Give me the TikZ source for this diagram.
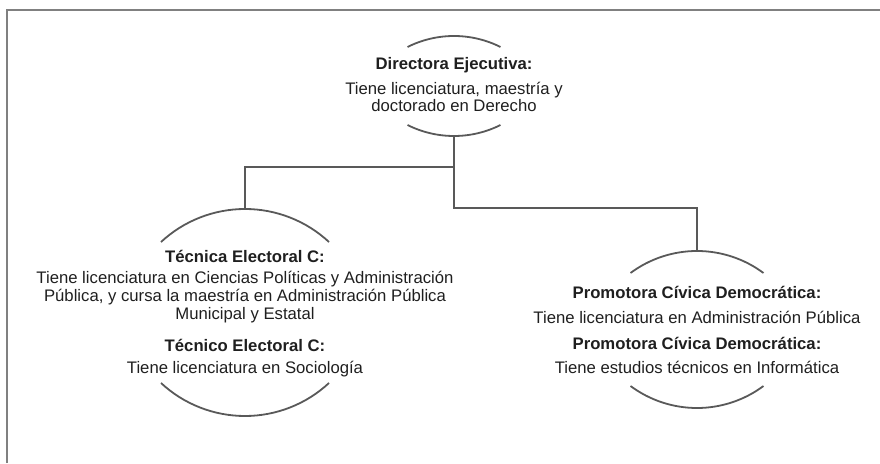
\documentclass[tikz,border=0pt]{standalone}
\usepackage{fontspec}
\setmainfont{Liberation Sans}
\usepackage{tikz}
\usetikzlibrary{positioning}

\begin{document}
\begin{tikzpicture}[x=1pt,y=1pt,
        frame/.style={draw=black!50,line width=1.4pt},
        link/.style={draw=black!65,line width=1.8pt},
        arcline/.style={draw=black!65,line width=1.8pt},
        head/.style={font=\bfseries\fontsize{16.7}{18}\selectfont,text=black!88,inner sep=0pt},
        desc/.style={align=center,font=\fontsize{16.7}{17.8}\selectfont,text=black!88,inner sep=0pt}]

  \useasboundingbox (0,0) rectangle (880,463);
  \draw[frame] (7,0) -- (7,453) -- (880,453);

  % director
  \coordinate (dirT) at (454,427);
  \coordinate (dirB) at (454,327);
  \node[head] (dirH) at (454,398) {Directora Ejecutiva:};
  \node[desc] (dirD) at (454,366) {Tiene licenciatura, maestría y\\doctorado en Derecho};
  \draw[arcline] (dirT) arc[start angle=90,end angle=116.6,radius=103.8]
             (dirT) arc[start angle=90,end angle=63.4,radius=103.8];
  \draw[arcline] (dirB) arc[start angle=270,end angle=243.4,radius=103.8]
             (dirB) arc[start angle=270,end angle=296.6,radius=103.8];

  % tecnicos
  \coordinate (tecT) at (245,254);
  \coordinate (tecB) at (245,47);
  \node[head] (tecH) at (245,207) {Técnica Electoral C:};
  \node[desc] (tecD) at (245,166) {Tiene licenciatura en Ciencias Políticas y Administración\\
    Pública, y cursa la maestría en Administración Pública\\Municipal y Estatal};
  \node[head] (tecH2) at (245,118) {Técnico Electoral C:};
  \node[desc] (tecD2) at (245,94) {Tiene licenciatura en Sociología};
  \draw[arcline] (tecT) arc[start angle=90,end angle=132.9,radius=123.4]
             (tecT) arc[start angle=90,end angle=47.1,radius=123.4];
  \draw[arcline] (tecB) arc[start angle=270,end angle=227.1,radius=123.4]
             (tecB) arc[start angle=270,end angle=312.9,radius=123.4];

  % promotoras
  \coordinate (proT) at (697,212);
  \coordinate (proB) at (697,55);
  \node[head] (proH) at (697,171) {Promotora Cívica Democrática:};
  \node[desc] (proD) at (697,146) {Tiene licenciatura en Administración Pública};
  \node[head] (proH2) at (697,120) {Promotora Cívica Democrática:};
  \node[desc] (proD2) at (697,96) {Tiene estudios técnicos en Informática};
  \draw[arcline] (proT) arc[start angle=90,end angle=126.6,radius=111.5]
             (proT) arc[start angle=90,end angle=53.4,radius=111.5];
  \draw[arcline] (proB) arc[start angle=270,end angle=233.4,radius=111.5]
             (proB) arc[start angle=270,end angle=306.6,radius=111.5];

  % connectors
  \coordinate (jl) at (454,296);
  \coordinate (jr) at (560,255);
  \draw[link] (dirB) |- (jr) -| (proT);
  \draw[link] (jl) -| (tecT);
\end{tikzpicture}
\end{document}
